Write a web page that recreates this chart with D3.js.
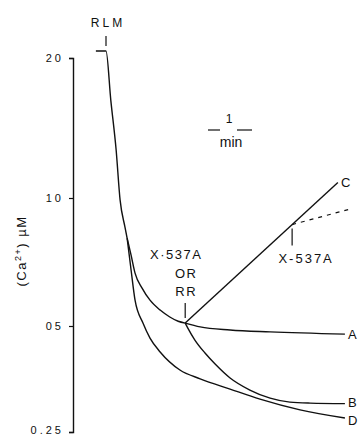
<!DOCTYPE html>
<html>
<head>
<meta charset="utf-8">
<script src="https://cdn.jsdelivr.net/npm/d3@7"></script>
<style>
  body { margin: 0; background: #fff; }
  svg text { font-family: "Liberation Sans", "DejaVu Sans", sans-serif; fill: #111; }
</style>
</head>
<body>
<div id="chart"></div>
<script>
// trace: time in minutes after RLM, Ca2+ in uM
var sharedTime = [-0.23, 0, 0.11, 0.23, 0.32, 0.43, 0.48];
var sharedCa = [2.07, 2.07, 1.62, 1.27, 0.99, 0.855, 0.805];

var dTime = [0.48, 0.57, 0.66, 0.84, 1.0, 1.23, 1.68, 2.14, 2.82, 3.5, 4.41, 5.43];
var dCa = [0.805, 0.677, 0.575, 0.508, 0.462, 0.422, 0.375, 0.354, 0.331, 0.31, 0.289, 0.274];

var abcTime = [0.48, 0.57, 0.66, 0.82, 1.0, 1.23, 1.45, 1.64, 1.8];
var abcCa = [0.805, 0.734, 0.666, 0.614, 0.575, 0.545, 0.525, 0.513, 0.508];

var aTime = [1.8, 2.14, 2.82, 3.73, 5.43];
var aCa = [0.508, 0.497, 0.487, 0.481, 0.474];

var bTime = [1.8, 1.86, 2.02, 2.25, 2.48, 2.82, 3.27, 3.73, 4.18, 4.64, 5.43];
var bCa = [0.508, 0.493, 0.456, 0.419, 0.39, 0.356, 0.329, 0.312, 0.304, 0.302, 0.301];

var cTime = [1.8, 5.27];
var cCa = [0.508, 1.08];

var dashTime = [4.23, 5.55];
var dashCa = [0.866, 0.942];

var yTicks = [0.25, 0.5, 1, 2];
var yTickLabels = ["0.25", "05", "10", "20"];

var width = 360,
  height = 436;

var x = d3.scaleLinear().domain([0, 5.5]).range([106, 348]);
var y = d3.scaleLog().domain([0.25, 0.5, 1, 2]).range([432, 326, 198, 58]);

var svg = d3
  .select("#chart")
  .append("svg")
  .attr("width", width)
  .attr("height", height);

function pts(t, v) {
  return t.map(function (d, i) {
    return [d, v[i]];
  });
}

var line = d3
  .line()
  .x(function (d) { return x(d[0]); })
  .y(function (d) { return y(d[1]); })
  .curve(d3.curveMonotoneX);

var straight = d3
  .line()
  .x(function (d) { return x(d[0]); })
  .y(function (d) { return y(d[1]); });

//y axis
var yAxis = d3
  .axisLeft(y)
  .tickValues(yTicks)
  .tickFormat(function (d, i) { return yTickLabels[i]; })
  .tickSize(4)
  .tickSizeOuter(4)
  .tickPadding(5);

var gAxis = svg.append("g").attr("transform", "translate(73,0)").call(yAxis);
gAxis.select(".domain").attr("stroke", "#111").attr("stroke-width", 1.4);
gAxis.selectAll(".tick line").attr("stroke", "#111").attr("stroke-width", 1.2);
gAxis
  .selectAll(".tick text")
  .style("font-size", "11px")
  .style("letter-spacing", "3px")
  .attr("fill", "#111")
  .attr("dy", function (d) { return d === 0.25 ? "0.1em" : "0.32em"; });

svg
  .append("text")
  .attr("transform", "translate(26,251) rotate(-90)")
  .attr("text-anchor", "middle")
  .style("font-size", "13px")
  .style("letter-spacing", "1.5px")
  .html('(Ca<tspan dy="-5" font-size="9px">2+</tspan><tspan dy="5">)</tspan>  \u00b5M');

// traces
var segments = [
  pts(sharedTime, sharedCa),
  pts(dTime, dCa),
  pts(abcTime, abcCa),
  pts(aTime, aCa),
  pts(bTime, bCa),
];

svg
  .selectAll(".trace")
  .data(segments)
  .enter()
  .append("path")
  .attr("class", "trace")
  .attr("d", line)
  .attr("fill", "none")
  .attr("stroke", "#111")
  .attr("stroke-width", 1.4);

svg
  .append("path")
  .attr("d", straight(pts(cTime, cCa)))
  .attr("fill", "none")
  .attr("stroke", "#111")
  .attr("stroke-width", 1.4);

svg
  .append("path")
  .attr("d", straight(pts(dashTime, dashCa)))
  .attr("fill", "none")
  .attr("stroke", "#111")
  .attr("stroke-width", 1.2)
  .attr("stroke-dasharray", "4,5");

// curve letters
var ends = [
  { name: "A", t: aTime[aTime.length - 1], v: aCa[aCa.length - 1], dy: 5 },
  { name: "B", t: bTime[bTime.length - 1], v: bCa[bCa.length - 1], dy: 3 },
  { name: "D", t: dTime[dTime.length - 1], v: dCa[dCa.length - 1], dy: 7 },
  { name: "C", t: cTime[cTime.length - 1], v: cCa[cCa.length - 1], dy: 5 },
];

svg
  .selectAll(".lbl")
  .data(ends)
  .enter()
  .append("text")
  .attr("class", "lbl")
  .attr("x", function (d) { return x(d.t) + 3; })
  .attr("y", function (d) { return y(d.v) + d.dy; })
  .style("font-size", "13px")
  .text(function (d) { return d.name; });

// additions
function marker(t, v, top, len) {
  svg
    .append("line")
    .attr("x1", x(t))
    .attr("x2", x(t))
    .attr("y1", y(v) - top)
    .attr("y2", y(v) - top + len)
    .attr("stroke", "#111")
    .attr("stroke-width", 1.2);
}

marker(0, sharedCa[0], 15, 10);
svg
  .append("text")
  .attr("x", x(0) + 2)
  .attr("y", y(sharedCa[0]) - 24)
  .attr("text-anchor", "middle")
  .style("font-size", "12px")
  .style("letter-spacing", "3px")
  .text("RLM");

marker(cTime[0], cCa[0], 20, 15);
var rr = svg
  .append("text")
  .attr("text-anchor", "middle")
  .style("font-size", "13px")
  .style("letter-spacing", "1.5px");
[["X\u00b7537A", -9, -64], ["OR", 1, -45], ["RR", 1, -27]].forEach(function (r) {
  rr.append("tspan")
    .attr("x", x(cTime[0]) + r[1])
    .attr("y", y(cCa[0]) + r[2])
    .text(r[0]);
});

marker(dashTime[0], dashCa[0], -4, 17);
svg
  .append("text")
  .attr("x", x(dashTime[0]) + 14)
  .attr("y", y(dashCa[0]) + 38)
  .attr("text-anchor", "middle")
  .style("font-size", "13px")
  .style("letter-spacing", "2px")
  .text("X-537A");

// 1/min key
var kx = 230,
  ky = 130;
svg.append("text").attr("x", kx - 1).attr("y", ky - 7).attr("text-anchor", "middle").style("font-size", "12px").text("1");
svg.append("line").attr("x1", kx - 22).attr("x2", kx - 10).attr("y1", ky).attr("y2", ky).attr("stroke", "#111").attr("stroke-width", 1.2);
svg.append("line").attr("x1", kx + 7).attr("x2", kx + 22).attr("y1", ky).attr("y2", ky).attr("stroke", "#111").attr("stroke-width", 1.2);
svg.append("text").attr("x", kx + 1).attr("y", ky + 17).attr("text-anchor", "middle").style("font-size", "14px").text("min");
</script>
</body>
</html>
